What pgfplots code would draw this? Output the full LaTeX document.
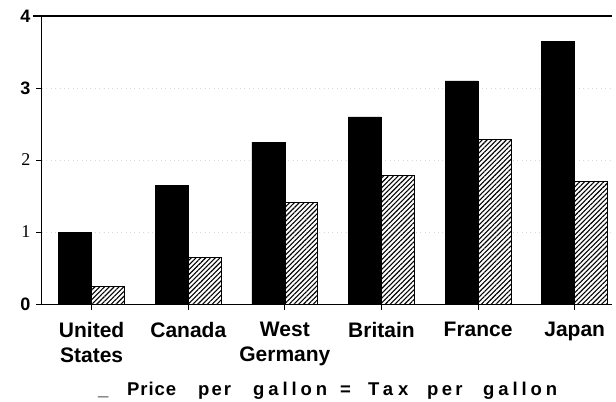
\documentclass[border=0pt]{standalone}
\usepackage{pgfplots}
\pgfplotsset{compat=1.18}
\usetikzlibrary{patterns.meta}
\usepackage{fontspec}
\setmainfont{Liberation Sans}
\newfontfamily\seriffont{Liberation Serif}
\begin{document}
\begin{tikzpicture}
\begin{axis}[
  name=ax,
  scale only axis,
  width=570pt, height=288pt,
  xmin=-0.514, xmax=5.386,
  ymin=0, ymax=4,
  axis x line*=bottom,
  axis y line*=left,
  axis line style={line width=1pt},
  tick align=outside,
  major tick length=6pt,
  tick style={black, line width=0.8pt},
  xtick={0,1,2,3,4,5},
  xticklabels={United\\States, Canada, West\\Germany, Britain, France, Japan},
  x tick label style={align=center, font=\fontsize{21}{25}\selectfont\bfseries, yshift=-9pt},
  ytick={0,1,2,3,4},
  yticklabels={\bfseries 0, {\seriffont 1}, {\seriffont 2}, \bfseries 3, \bfseries 4},
  y tick label style={font=\fontsize{18}{20}\selectfont, xshift=-2pt},
  /pgf/number format/assume math mode=true,
  ymajorgrids,
  grid style={gray!30, loosely dotted, line width=0.5pt},
  clip=false,
]
\addplot[ybar, bar width=33pt, bar shift=-16.5pt, fill=black, draw=black, line width=0.6pt]
  coordinates {(0,1.00) (1,1.65) (2,2.25) (3,2.60) (4,3.10) (5,3.65)};
\addplot[ybar, bar width=33pt, bar shift=16.5pt, pattern={Lines[angle=45, distance=3.4pt, line width=1.1pt]}, draw=black, line width=0.9pt]
  coordinates {(0,0.25) (1,0.65) (2,1.41) (3,1.78) (4,2.29) (5,1.70)};
\draw[line width=1.2pt] ([xshift=-9pt]rel axis cs:0,1) -- (rel axis cs:1,1);
\coordinate (BL) at (rel axis cs:0,0);
\coordinate (TR) at (rel axis cs:1,1);
\end{axis}
\begin{scope}[every node/.style={anchor=base west, inner sep=0pt, font=\fontsize{18.5}{20}\selectfont\bfseries}]
\node at ([xshift=56pt, yshift=-91pt]BL) {\_};
\node at ([xshift=85pt, yshift=-91pt]BL) {\addfontfeature{LetterSpace=5}Price};
\node at ([xshift=156pt, yshift=-91pt]BL) {\addfontfeature{LetterSpace=11}per};
\node at ([xshift=211pt, yshift=-91pt]BL) {\addfontfeature{LetterSpace=21}gallon};
\node at ([xshift=298pt, yshift=-91pt]BL) {=};
\node at ([xshift=326pt, yshift=-91pt]BL) {\addfontfeature{LetterSpace=26}Tax};
\node at ([xshift=385pt, yshift=-91pt]BL) {\addfontfeature{LetterSpace=18}per};
\node at ([xshift=441pt, yshift=-91pt]BL) {\addfontfeature{LetterSpace=21}gallon};
\end{scope}
\pgfresetboundingbox
\path[use as bounding box] ([xshift=-42pt,yshift=-97pt]BL) rectangle ([xshift=4pt,yshift=16pt]TR);
\end{tikzpicture}
\end{document}
